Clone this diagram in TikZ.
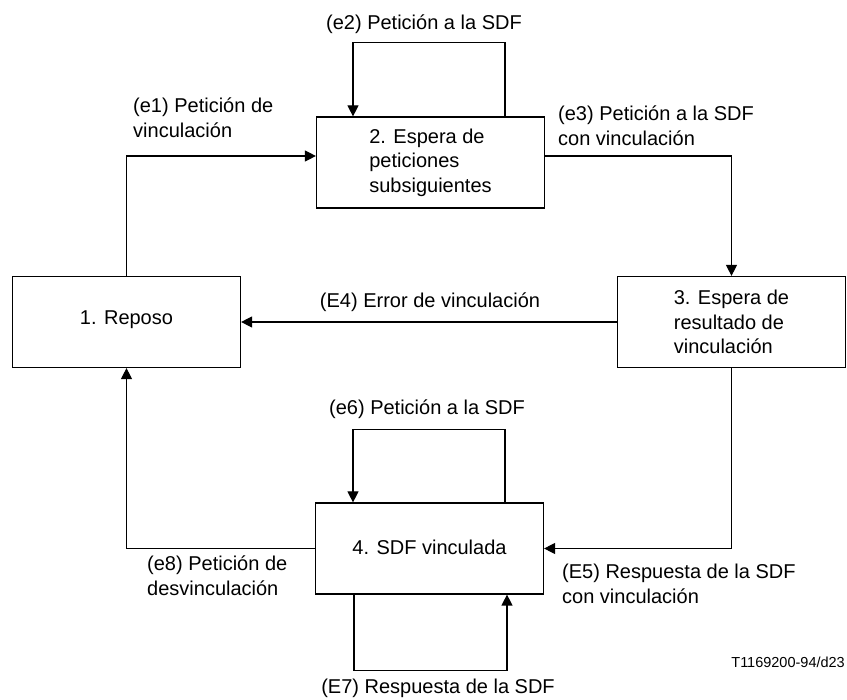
\documentclass[tikz,border=0pt]{standalone}
\usepackage{fontspec}
\setmainfont{Liberation Sans}
\usetikzlibrary{arrows.meta}
\begin{document}
\begin{tikzpicture}[x=1pt,y=-1pt,
  state/.style={draw, line width=1.2pt, minimum width=228pt, minimum height=91pt,
    align=left, inner sep=0pt, font=\fontsize{20}{24.5}\selectfont},
  link/.style={line width=1.2pt, -{Triangle[length=11pt,width=11pt]}},
  evt/.style={font=\fontsize{20}{25}\selectfont, inner sep=0pt, align=left},
  tag/.style={font=\fontsize{14.5}{17}\selectfont, inner sep=0pt},
]
\useasboundingbox (0,0) rectangle (847,700);

% states
\node[state] (b1) at (126.5,322) {\raisebox{8pt}{1. Reposo}};
\node[state] (b2) at (430.5,162.5) {2. Espera de\\peticiones\\subsiguientes};
\node[state] (b3) at (731.5,322) {3. Espera de\\resultado de\\vinculación};
\node[state] (b4) at (429.5,548.5) {\raisebox{3pt}{4. SDF vinculada}};

% transitions
\draw[link] (b1.north) |- ([yshift=6.5pt]b2.west);
\draw[link] ([xshift=74.5pt]b2.north) -- ++(0,-74) -| ([xshift=-77.5pt]b2.north);
\draw[link] ([yshift=6.5pt]b2.east) -| (b3.north);
\draw[link] (b3.west) -- (b1.east);
\draw[link] (b3.south) |- (b4.east);
\draw[link] ([xshift=75.5pt]b4.north) -- ++(0,-73) -| ([xshift=-76.5pt]b4.north);
\draw[link] ([xshift=-75.5pt]b4.south) -- ++(0,76) -| ([xshift=77.5pt]b4.south);
\draw[link] (b4.west) -| (b1.south);

% transition labels
\node[evt, anchor=west] (l1) at (133,117.5) {(e1) Petición de\\vinculación};
\node[evt] (l2) at (424,24) {(e2) Petición a la SDF};
\node[evt, anchor=west] (l3) at (558,126) {(e3) Petición a la SDF\\con vinculación};
\node[evt] (l4) at (430,302) {(E4) Error de vinculación};
\node[evt, anchor=west] (l5) at (562,584) {(E5) Respuesta de la SDF\\con vinculación};
\node[evt] (l6) at (427,409) {(e6) Petición a la SDF};
\node[evt] (l7) at (438,688) {(E7) Respuesta de la SDF};
\node[evt, anchor=west] (l8) at (147,576) {(e8) Petición de\\desvinculación};

\node[tag, anchor=east] (ref) at (845,662) {T1169200-94/d23};
\end{tikzpicture}
\end{document}
